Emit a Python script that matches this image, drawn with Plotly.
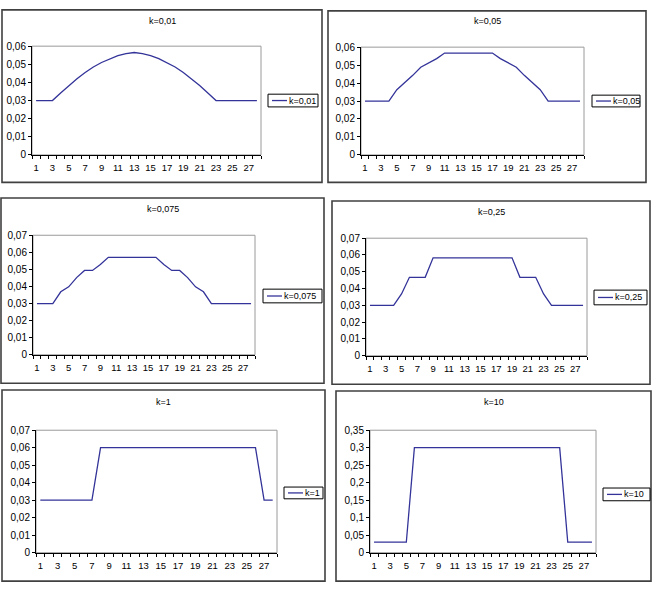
import plotly.graph_objects as go

# ---------------- data ----------------
x_cat = list(range(1, 29))
x_tick_labels = [str(v) for v in range(1, 28, 2)]

names = ["k=0,01", "k=0,05", "k=0,075", "k=0,25", "k=1", "k=10"]

k_001 = [0.030, 0.030, 0.030, 0.0342, 0.0383, 0.0420, 0.0455, 0.0485, 0.0510, 0.0531,
         0.0548, 0.0559, 0.0565, 0.0559, 0.0548, 0.0531, 0.0510, 0.0485, 0.0455, 0.0420,
         0.0383, 0.0342, 0.030, 0.030, 0.030, 0.030, 0.030, 0.030]
k_005 = [0.030, 0.030, 0.030, 0.030, 0.0363, 0.0402, 0.0443, 0.0488, 0.0511, 0.0536,
         0.0567, 0.0567, 0.0567, 0.0567, 0.0567, 0.0567, 0.0567, 0.0536, 0.0511, 0.0488,
         0.0443, 0.0402, 0.0363, 0.030, 0.030, 0.030, 0.030, 0.030]
k_0075 = [0.030, 0.030, 0.030, 0.0369, 0.0398, 0.0452, 0.0494, 0.0494, 0.0529, 0.0571,
          0.0571, 0.0571, 0.0571, 0.0571, 0.0571, 0.0571, 0.0529, 0.0494, 0.0494, 0.0452,
          0.0398, 0.0369, 0.030, 0.030, 0.030, 0.030, 0.030, 0.030]
k_025 = [0.030, 0.030, 0.030, 0.030, 0.0368, 0.0467, 0.0467, 0.0467, 0.0583, 0.0583,
         0.0583, 0.0583, 0.0583, 0.0583, 0.0583, 0.0583, 0.0583, 0.0583, 0.0583, 0.0467,
         0.0467, 0.0467, 0.0368, 0.030, 0.030, 0.030, 0.030, 0.030]
k_1 = [0.030, 0.030, 0.030, 0.030, 0.030, 0.030, 0.030, 0.060, 0.060, 0.060,
       0.060, 0.060, 0.060, 0.060, 0.060, 0.060, 0.060, 0.060, 0.060, 0.060,
       0.060, 0.060, 0.060, 0.060, 0.060, 0.060, 0.030, 0.030]
k_10 = [0.030, 0.030, 0.030, 0.030, 0.030, 0.300, 0.300, 0.300, 0.300, 0.300,
        0.300, 0.300, 0.300, 0.300, 0.300, 0.300, 0.300, 0.300, 0.300, 0.300,
        0.300, 0.300, 0.300, 0.300, 0.030, 0.030, 0.030, 0.030]

y_max = [0.06, 0.06, 0.07, 0.07, 0.07, 0.35]
y_step = [0.01, 0.01, 0.01, 0.01, 0.01, 0.05]

series = [k_001, k_005, k_0075, k_025, k_1, k_10]

# ---------------- layout (pixel positions) ----------------
W, H = 654, 592
panels = [
    dict(border=(2, 4, 322, 180), plot=(32, 41, 261, 152), title=(162, 15), legend=(268, 90, 318, 103)),
    dict(border=(328, 5, 646, 180), plot=(361, 42, 584, 152), title=(487, 15), legend=(592, 91, 640, 103)),
    dict(border=(1, 196, 324, 385), plot=(33, 234, 255, 356), title=(163, 207), legend=(263, 289, 322, 303)),
    dict(border=(332, 199, 650, 386), plot=(366, 237, 587, 357), title=(491, 210), legend=(594, 290, 647, 305)),
    dict(border=(2, 392, 325, 587), plot=(36, 433, 277, 558), title=(163, 404), legend=(284, 491, 323, 503)),
    dict(border=(336, 393, 651, 587), plot=(370, 433, 596, 558), title=(494, 404), legend=(603, 492, 650, 505)),
]

FONT = "Liberation Sans, Arial, sans-serif"
LINE_COLOR = "#333399"


def px(v):
    return v / W


def py(v):
    return 1 - v / H


fig = go.Figure()
shapes = []
annotations = []
layout_extra = {}

for i, (p, name, ys) in enumerate(zip(panels, names, series)):
    n = i + 1
    xa = "x" if n == 1 else f"x{n}"
    ya = "y" if n == 1 else f"y{n}"
    fig.add_trace(go.Scatter(
        x=x_cat, y=ys, mode="lines", name=name,
        line=dict(color=LINE_COLOR, width=1.3),
        xaxis=xa, yaxis=ya, showlegend=False,
    ))
    x0, y0, x1, y1 = p["plot"]
    xkey = "xaxis" if n == 1 else f"xaxis{n}"
    ykey = "yaxis" if n == 1 else f"yaxis{n}"
    layout_extra[xkey] = dict(
        domain=[px(x0), px(x1)], anchor=ya, range=[0.5, 28.5],
        tickmode="array", tickvals=list(range(1, 28, 2)), ticktext=x_tick_labels,
        ticks="", showgrid=False, zeroline=False,
        showline=True, linecolor="black", linewidth=1,
        minor=dict(tickmode="array", tickvals=[v + 0.5 for v in range(0, 29)],
                   ticks="outside", ticklen=3, tickcolor="black", tickwidth=1, showgrid=False),
        ticklabelstandoff=4,
        tickfont=dict(family=FONT, size=9.5, color="black"),
        fixedrange=True,
    )
    layout_extra[ykey] = dict(
        domain=[py(y1), py(y0)], anchor=xa, range=[0, y_max[i]],
        dtick=y_step[i], tick0=0, ticks="outside", ticklen=3, tickcolor="black",
        showgrid=False, zeroline=False,
        showline=True, linecolor="black", linewidth=1,
        tickfont=dict(family=FONT, size=10, color="black"),
        fixedrange=True,
    )
    # plot area gray frame
    shapes.append(dict(type="rect", xref="paper", yref="paper",
                       x0=px(x0), x1=px(x1), y0=py(y1), y1=py(y0),
                       line=dict(color="#9a9a9a", width=1), layer="below"))
    # panel border
    bx0, by0, bx1, by1 = p["border"]
    shapes.append(dict(type="rect", xref="paper", yref="paper",
                       x0=px(bx0), x1=px(bx1), y0=py(by1), y1=py(by0),
                       line=dict(color="#404040", width=1.6), layer="below"))
    # title
    tx, ty = p["title"]
    annotations.append(dict(text=name, x=px(tx), y=py(ty), xref="paper", yref="paper",
                            xanchor="center", yanchor="middle", showarrow=False,
                            font=dict(family=FONT, size=9, color="black")))
    # legend box (drawn)
    lx0, ly0, lx1, ly1 = p["legend"]
    lym = (ly0 + ly1) / 2
    shapes.append(dict(type="rect", xref="paper", yref="paper",
                       x0=px(lx0), x1=px(lx1), y0=py(ly1), y1=py(ly0),
                       line=dict(color="black", width=1), fillcolor="white", layer="above"))
    shapes.append(dict(type="line", xref="paper", yref="paper",
                       x0=px(lx0 + 4), x1=px(lx0 + 19), y0=py(lym), y1=py(lym),
                       line=dict(color=LINE_COLOR, width=1.3), layer="above"))
    annotations.append(dict(text=name, x=px(lx0 + 19), y=py(lym), xref="paper", yref="paper",
                            xanchor="left", yanchor="middle", showarrow=False,
                            font=dict(family=FONT, size=9, color="black")))

fig.update_layout(
    width=W, height=H, margin=dict(l=0, r=0, t=0, b=0),
    paper_bgcolor="white", plot_bgcolor="white",
    separators=",.",
    shapes=shapes, annotations=annotations,
    font=dict(family=FONT, size=9, color="black"),
    showlegend=False,
    **layout_extra,
)

fig.write_html("out.html")
